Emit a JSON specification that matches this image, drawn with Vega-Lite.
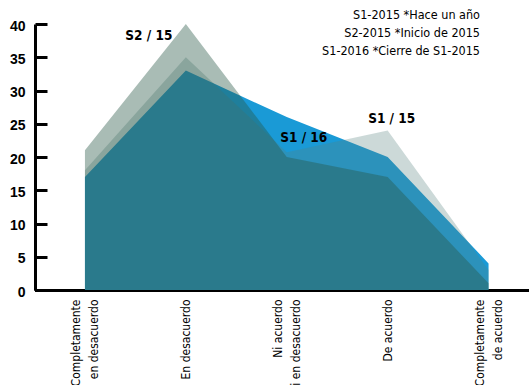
{
  "$schema": "https://vega.github.io/schema/vega-lite/v6.json",
  "width": 487,
  "height": 266,
  "autosize": "none",
  "padding": {"left": 35, "top": 24, "right": 7, "bottom": 95},
  "background": "white",
  "config": {"view": {"stroke": null}},
  "title": {
    "text": ["S1-2015 *Hace un año", "S2-2015 *Inicio de 2015", "S1-2016 *Cierre de S1-2015"],
    "anchor": "end",
    "frame": "group",
    "orient": "top",
    "font": "DejaVu Sans Condensed, sans-serif",
    "fontSize": 12.5,
    "fontWeight": "normal",
    "color": "black",
    "lineHeight": 18,
    "baseline": "top",
    "offset": 0,
    "dx": -42,
    "dy": 38
  },
  "data": {
    "values": [
      {"categoria": "Completamente en desacuerdo", "serie": "S1-2016", "valor": 17},
      {"categoria": "En desacuerdo", "serie": "S1-2016", "valor": 33},
      {"categoria": "Ni acuerdo ni en desacuerdo", "serie": "S1-2016", "valor": 26},
      {"categoria": "De acuerdo", "serie": "S1-2016", "valor": 20},
      {"categoria": "Completamente de acuerdo", "serie": "S1-2016", "valor": 4},
      {"categoria": "Completamente en desacuerdo", "serie": "S1-2015", "valor": 18},
      {"categoria": "En desacuerdo", "serie": "S1-2015", "valor": 35},
      {"categoria": "Ni acuerdo ni en desacuerdo", "serie": "S1-2015", "valor": 20.7},
      {"categoria": "De acuerdo", "serie": "S1-2015", "valor": 24},
      {"categoria": "Completamente de acuerdo", "serie": "S1-2015", "valor": 3},
      {"categoria": "Completamente en desacuerdo", "serie": "S2-2015", "valor": 21},
      {"categoria": "En desacuerdo", "serie": "S2-2015", "valor": 40},
      {"categoria": "Ni acuerdo ni en desacuerdo", "serie": "S2-2015", "valor": 20},
      {"categoria": "De acuerdo", "serie": "S2-2015", "valor": 17},
      {"categoria": "Completamente de acuerdo", "serie": "S2-2015", "valor": 1}
    ]
  },
  "encoding": {
    "x": {
      "field": "categoria",
      "type": "nominal",
      "sort": ["Completamente en desacuerdo", "En desacuerdo", "Ni acuerdo ni en desacuerdo", "De acuerdo", "Completamente de acuerdo"],
      "bandPosition": 0.5,
      "scale": {"type": "band", "range": [-0.5, 504], "paddingInner": 0, "paddingOuter": 0},
      "axis": {
        "title": null,
        "tickBand": "extent",
        "tickSize": -6,
        "tickWidth": 3,
        "tickColor": "black",
        "domainWidth": 3,
        "domainColor": "black",
        "labelAngle": 270,
        "labelAlign": "right",
        "labelBaseline": "middle",
        "labelFont": "DejaVu Sans Condensed, sans-serif",
        "labelFontSize": 12,
        "labelLineHeight": 18,
        "labelColor": "black",
        "labelPadding": 15,
        "labelOffset": {"condition": {"test": "datum.value == 'En desacuerdo' || datum.value == 'De acuerdo'", "value": 0}, "value": -9},
        "labelOverlap": false,
        "labelBound": false,
        "labelFlush": false,
        "labelLimit": 0,
        "labelExpr": "datum.label == 'Completamente en desacuerdo' ? ['Completamente', 'en desacuerdo'] : datum.label == 'Ni acuerdo ni en desacuerdo' ? ['Ni acuerdo', 'ni en desacuerdo'] : datum.label == 'Completamente de acuerdo' ? ['Completamente', 'de acuerdo'] : datum.label"
      }
    },
    "y": {
      "field": "valor",
      "type": "quantitative",
      "scale": {"domain": [0, 40], "nice": false},
      "axis": {
        "title": null,
        "values": [0, 5, 10, 15, 20, 25, 30, 35, 40],
        "grid": false,
        "tickSize": -12,
        "tickWidth": 3,
        "tickColor": "black",
        "domainWidth": 3,
        "domainColor": "black",
        "labelFont": "Liberation Sans, Arial, sans-serif",
        "labelFontWeight": "bold",
        "labelFontSize": 14,
        "labelColor": "black",
        "labelPadding": 22,
        "labelOffset": 2
      }
    }
  },
  "layer": [
    {
      "transform": [{"filter": "datum.serie == 'S1-2016'"}],
      "mark": {"type": "area", "color": "#1a9ad6", "opacity": 1}
    },
    {
      "transform": [{"filter": "datum.serie == 'S1-2015'"}],
      "mark": {"type": "area", "color": "#55807d", "opacity": 0.3}
    },
    {
      "transform": [{"filter": "datum.serie == 'S2-2015'"}],
      "mark": {"type": "area", "color": "#285846", "opacity": 0.4}
    },
    {
      "transform": [{"filter": "datum.serie == 'S2-2015' && datum.categoria == 'En desacuerdo'"}],
      "mark": {"type": "text", "text": "S2 / 15", "font": "DejaVu Sans Condensed, sans-serif", "fontWeight": "bold", "fontSize": 13.5, "color": "black", "dx": -37, "dy": 12}
    },
    {
      "transform": [{"filter": "datum.serie == 'S1-2015' && datum.categoria == 'De acuerdo'"}],
      "mark": {"type": "text", "text": "S1 / 15", "font": "DejaVu Sans Condensed, sans-serif", "fontWeight": "bold", "fontSize": 13.5, "color": "black", "dx": 4, "dy": -11}
    },
    {
      "transform": [{"filter": "datum.serie == 'S1-2016' && datum.categoria == 'Ni acuerdo ni en desacuerdo'"}],
      "mark": {"type": "text", "text": "S1 / 16", "font": "DejaVu Sans Condensed, sans-serif", "fontWeight": "bold", "fontSize": 13.5, "color": "black", "dx": 17, "dy": 21}
    }
  ]
}
